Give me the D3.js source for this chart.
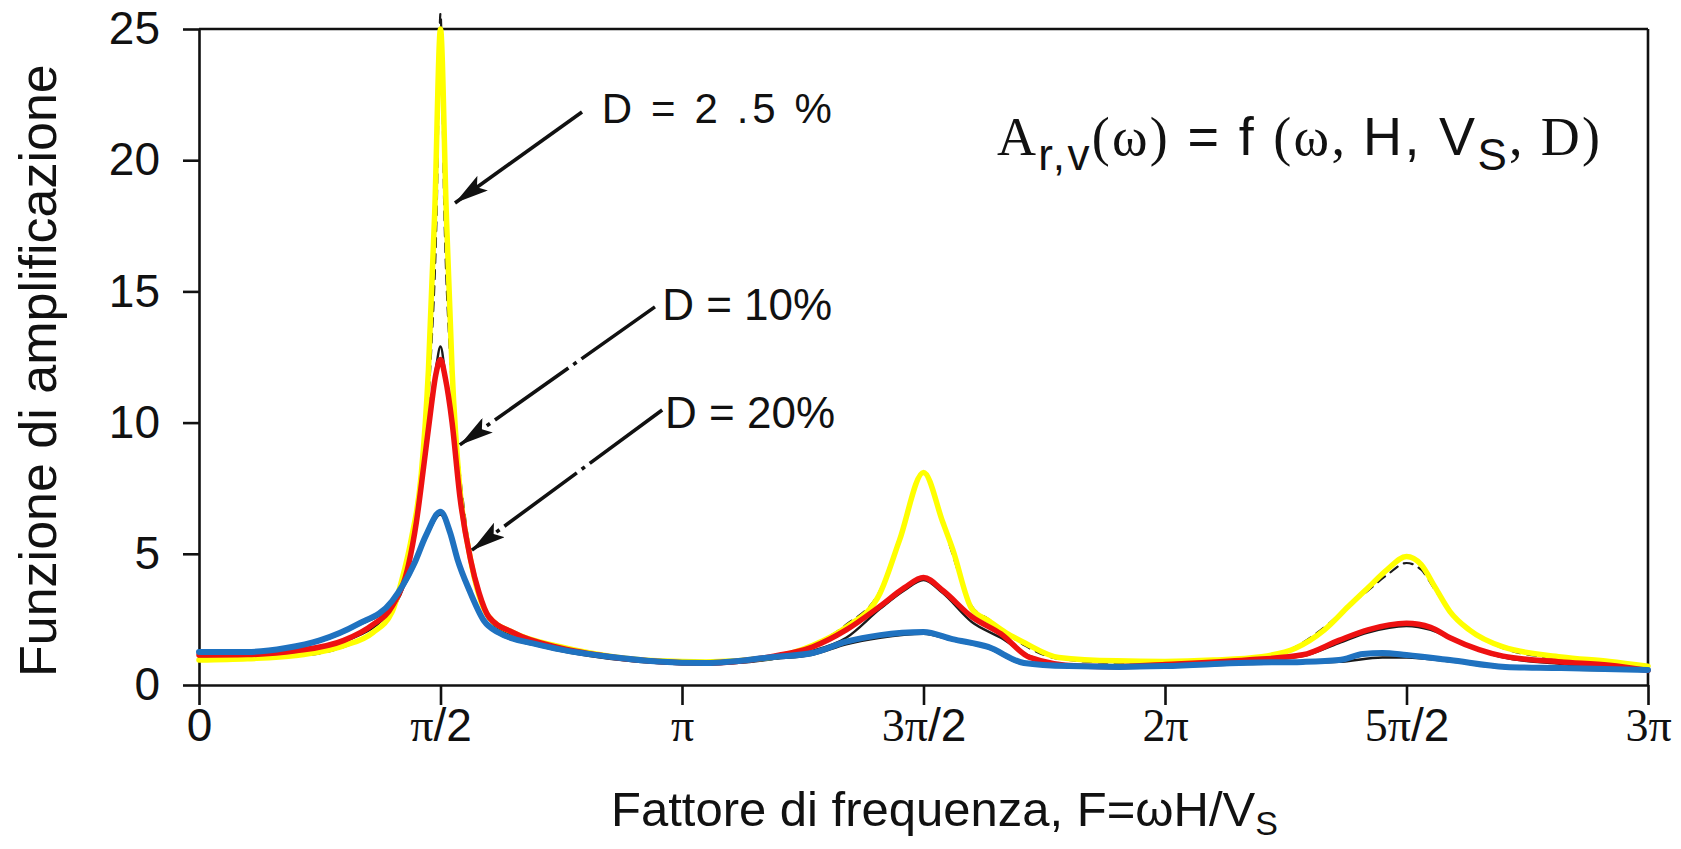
<!DOCTYPE html>
<html>
<head>
<meta charset="utf-8">
<script src="https://cdn.jsdelivr.net/npm/d3@7"></script>
<style>
  body { margin: 0; background: #fff; }
  svg { display: block; }
</style>
</head>
<body>
<svg id="chart"></svg>
<script>
// x values are F / pi (0 .. 3), y is the amplification
const xTickValues = [0, 0.5, 1, 1.5, 2, 2.5, 3];
const xTickLabels = ["0", "π/2", "π", "3π/2", "2π", "5π/2", "3π"];
const yTickValues = [0, 5, 10, 15, 20, 25];

// D = 2.5 % (yellow)
const yellowD25 = [[0,0.95],[0.1,1.0],[0.2,1.12],[0.3,1.5],[0.36,2.0],[0.4,2.8],[0.42,4.0],[0.44,5.6],[0.46,8],[0.475,12],
  [0.488,18],[0.5,25],[0.512,18],[0.524,12],[0.54,7.5],[0.56,5.0],[0.58,3.4],[0.6,2.6],[0.65,2.0],[0.75,1.45],[0.85,1.1],
  [0.95,0.92],[1.05,0.88],[1.19,1.07],[1.27,1.5],[1.34,2.2],[1.41,3.5],[1.45,5.5],[1.5,8.1],[1.54,6.2],[1.56,5.2],[1.6,2.9],
  [1.635,2.45],[1.67,2.0],[1.71,1.6],[1.78,1.05],[1.9,0.92],[2.0,0.9],[2.1,0.95],[2.2,1.08],[2.27,1.4],[2.33,2.1],[2.38,3.0],
  [2.42,3.7],[2.46,4.4],[2.5,4.9],[2.53,4.6],[2.56,3.7],[2.59,2.8],[2.63,2.1],[2.7,1.45],[2.82,1.07],[2.92,0.9],[3.0,0.72]];

// D = 2.5 % original black dashed curve
const blackD25 = [[0,1.0],[0.1,1.02],[0.2,1.1],[0.3,1.45],[0.36,2.0],[0.4,2.8],[0.42,3.9],[0.44,5.4],[0.46,8],[0.48,12.5],
  [0.492,18],[0.5,25.6],[0.508,18],[0.52,12.5],[0.535,9],[0.55,6.5],[0.57,4.2],[0.6,2.5],[0.65,1.9],[0.75,1.4],[0.85,1.05],
  [0.95,0.9],[1.05,0.85],[1.19,1.0],[1.27,1.5],[1.34,2.3],[1.41,3.6],[1.45,5.6],[1.5,8.1],[1.54,6.2],[1.56,5.0],[1.6,3.0],
  [1.635,2.5],[1.67,2.0],[1.71,1.5],[1.78,1.0],[1.9,0.85],[2.0,0.85],[2.1,0.9],[2.2,1.05],[2.27,1.45],[2.33,2.2],[2.38,3.0],
  [2.42,3.6],[2.46,4.2],[2.5,4.65],[2.53,4.4],[2.56,3.6],[2.6,2.6],[2.64,2.0],[2.7,1.4],[2.82,1.0],[2.92,0.85],[3.0,0.7]];

// D = 10 % (red)
const redD10 = [[0,1.14],[0.1,1.16],[0.2,1.3],[0.3,1.7],[0.36,2.3],[0.4,3.0],[0.434,4.6],[0.45,6.2],[0.465,8.3],[0.478,10.2],
  [0.49,11.8],[0.5,12.4],[0.51,11.7],[0.524,10],[0.54,7.2],[0.562,4.8],[0.58,3.5],[0.6,2.6],[0.65,2.0],[0.75,1.4],[0.85,1.08],
  [0.95,0.9],[1.05,0.84],[1.19,1.1],[1.27,1.45],[1.34,2.1],[1.41,3.0],[1.46,3.7],[1.5,4.1],[1.54,3.6],[1.6,2.6],[1.66,1.95],
  [1.72,1.05],[1.82,0.72],[1.9,0.7],[2.0,0.78],[2.17,0.95],[2.285,1.15],[2.36,1.7],[2.42,2.1],[2.5,2.35],[2.55,2.2],[2.59,1.8],
  [2.65,1.35],[2.7,1.1],[2.82,0.88],[2.92,0.75],[3.0,0.55]];

const blackD10 = [[0,1.05],[0.2,1.25],[0.3,1.65],[0.4,2.9],[0.434,4.5],[0.465,8.3],[0.49,12.0],[0.5,12.9],[0.51,11.8],
  [0.524,9.8],[0.54,7.0],[0.562,4.6],[0.6,2.5],[0.65,1.9],[0.75,1.35],[0.85,1.05],[0.95,0.85],[1.05,0.8],[1.19,1.0],[1.27,1.3],
  [1.34,1.8],[1.41,2.9],[1.46,3.6],[1.5,4.0],[1.54,3.5],[1.6,2.4],[1.66,1.8],[1.72,1.1],[1.82,0.7],[2.0,0.75],[2.17,0.9],
  [2.285,1.1],[2.36,1.6],[2.42,2.0],[2.5,2.25],[2.55,2.1],[2.6,1.7],[2.7,1.05],[2.82,0.8],[3.0,0.55]];

// D = 20 % (blue)
const blueD20 = [[0,1.26],[0.1,1.26],[0.18,1.41],[0.25,1.7],[0.327,2.3],[0.4,3.2],[0.445,4.6],[0.47,5.7],[0.5,6.6],[0.52,5.8],
  [0.535,4.8],[0.56,3.6],[0.59,2.45],[0.62,2.0],[0.7,1.55],[0.75,1.35],[0.85,1.08],[0.95,0.9],[1.05,0.84],[1.19,1.07],
  [1.27,1.22],[1.34,1.65],[1.41,1.9],[1.5,2.02],[1.56,1.75],[1.634,1.45],[1.708,0.84],[1.8,0.72],[1.906,0.69],[2.0,0.72],
  [2.17,0.85],[2.285,0.88],[2.36,0.95],[2.41,1.18],[2.45,1.22],[2.5,1.14],[2.59,0.95],[2.705,0.69],[2.82,0.65],[3.0,0.57]];

const blackD20 = [[0,1.1],[0.18,1.35],[0.25,1.65],[0.327,2.25],[0.4,3.1],[0.445,4.5],[0.47,5.6],[0.5,6.5],[0.52,5.7],
  [0.535,4.7],[0.56,3.5],[0.59,2.4],[0.62,1.95],[0.7,1.5],[0.85,1.0],[1.05,0.78],[1.19,1.0],[1.27,1.15],[1.34,1.55],
  [1.41,1.8],[1.5,1.95],[1.56,1.7],[1.634,1.4],[1.708,0.8],[1.9,0.65],[2.17,0.8],[2.36,0.88],[2.45,1.05],[2.5,1.05],
  [2.59,0.9],[2.705,0.65],[3.0,0.55]];

// annotations, in data units
const labelTexts = ["D = 2 .5 %", "D = 10%", "D = 20%"];
const labelAnchors = [[0.834, 21.42], [0.959, 13.91], [0.965, 9.79]];
const arrowStarts = [[0.793, 21.84], [0.944, 14.41], [0.959, 10.48]];
const arrowEnds = [[0.530, 18.37], [0.540, 9.15], [0.565, 5.14]];

class AmplificationChart {
  constructor(_config) {
    this.config = {
      parentElement: _config.parentElement,
      containerWidth: 1681,
      containerHeight: 849,
      margin: { top: 29, right: 33, bottom: 164, left: 199 }
    };
    this.sans = "'Liberation Sans', Arial, Helvetica, sans-serif";
    this.serif = "'Liberation Serif', 'Times New Roman', serif";
    this.initVis();
  }

  initVis() {
    let vis = this;
    const c = vis.config;
    c.width = c.containerWidth - c.margin.left - c.margin.right;
    c.height = c.containerHeight - c.margin.top - c.margin.bottom;

    vis.svg = d3.select(c.parentElement)
      .attr('width', c.containerWidth)
      .attr('height', c.containerHeight);

    vis.svg.append('rect')
      .attr('width', c.containerWidth).attr('height', c.containerHeight)
      .attr('fill', '#fff');

    vis.chart = vis.svg.append('g')
      .attr('transform', `translate(${c.margin.left},${c.margin.top})`);

    vis.x = d3.scaleLinear().domain([0, 3]).range([0, c.width]);
    vis.y = d3.scaleLinear().domain([0, 25]).range([c.height, 0]);

    vis.line = d3.line()
      .x(d => vis.x(d[0]))
      .y(d => vis.y(d[1]))
      .curve(d3.curveMonotoneX);

    vis.renderVis();
  }

  renderVis() {
    let vis = this;
    const c = vis.config;

    // axes
    const xAxis = d3.axisBottom(vis.x).tickValues(xTickValues).tickSize(20).tickSizeOuter(0).tickPadding(3);
    const yAxis = d3.axisLeft(vis.y).tickValues(yTickValues).tickSize(16).tickSizeOuter(0).tickPadding(23);

    const xG = vis.chart.append('g')
      .attr('transform', `translate(0,${c.height})`)
      .call(xAxis);
    const yG = vis.chart.append('g').call(yAxis);

    [xG, yG].forEach(g => {
      g.select('.domain').attr('stroke', '#111').attr('stroke-width', 2.6);
      g.selectAll('.tick line').attr('stroke', '#111').attr('stroke-width', 2.6);
      g.selectAll('.tick text').attr('fill', '#111').attr('font-size', 46).attr('font-family', vis.sans);
    });

    // pi in serif, the rest in sans
    xG.selectAll('.tick text').each(function(d, i) {
      const t = d3.select(this);
      const lab = xTickLabels[i];
      t.text(null);
      const k = lab.indexOf('π');
      if (k < 0) {
        t.append('tspan').attr('font-family', vis.sans).text(lab);
      } else {
        t.append('tspan').attr('font-family', vis.serif).text(lab.slice(0, k + 1));
        if (k + 1 < lab.length) t.append('tspan').attr('font-family', vis.sans).text(lab.slice(k + 1));
      }
    });

    // frame top and right
    vis.chart.append('line')
      .attr('x1', vis.x(0)).attr('x2', vis.x(3))
      .attr('y1', vis.y(25)).attr('y2', vis.y(25))
      .attr('stroke', '#111').attr('stroke-width', 2.6);
    vis.chart.append('line')
      .attr('x1', vis.x(3)).attr('x2', vis.x(3))
      .attr('y1', vis.y(25)).attr('y2', vis.y(0))
      .attr('stroke', '#111').attr('stroke-width', 2.6);

    // curves
    const series = [
      { data: blackD25, color: '#1a1a1a', width: 2.2, dash: '9,7' },
      { data: blackD10, color: '#1a1a1a', width: 2.4, dash: null },
      { data: blackD20, color: '#1a1a1a', width: 2.4, dash: null },
      { data: yellowD25, color: '#ffff00', width: 5.5, dash: null },
      { data: redD10, color: '#ee1111', width: 5.5, dash: null },
      { data: blueD20, color: '#1f72c0', width: 6, dash: null }
    ];

    vis.chart.selectAll('.curve')
        .data(series)
      .join('path')
        .attr('class', 'curve')
        .attr('d', d => vis.line(d.data))
        .attr('fill', 'none')
        .attr('stroke', d => d.color)
        .attr('stroke-width', d => d.width)
        .attr('stroke-dasharray', d => d.dash)
        .attr('stroke-linejoin', 'round')
        .attr('stroke-linecap', 'round');

    // arrows
    vis.svg.append('defs').append('marker')
      .attr('id', 'arrowhead')
      .attr('markerUnits', 'userSpaceOnUse')
      .attr('viewBox', '0 0 34 18')
      .attr('refX', 34).attr('refY', 9)
      .attr('markerWidth', 34).attr('markerHeight', 18)
      .attr('orient', 'auto')
      .append('path')
      .attr('d', 'M0,0 L34,9 L0,18 L7,9 Z')
      .attr('fill', '#111');

    vis.chart.selectAll('.arrow')
        .data(arrowStarts)
      .join('line')
        .attr('class', 'arrow')
        .attr('x1', d => vis.x(d[0])).attr('y1', d => vis.y(d[1]))
        .attr('x2', (d, i) => vis.x(arrowEnds[i][0])).attr('y2', (d, i) => vis.y(arrowEnds[i][1]))
        .attr('stroke', '#111').attr('stroke-width', 3.6)
        .attr('stroke-dasharray', (d, i) => i === 0 ? null : '90,6,4,6')
        .attr('marker-end', 'url(#arrowhead)');

    const labelSizes = [42, 44, 44];
    const labelLengths = [230, null, null];
    vis.chart.selectAll('.d-label')
        .data(labelTexts)
      .join('text')
        .attr('class', 'd-label')
        .attr('x', (d, i) => vis.x(labelAnchors[i][0]))
        .attr('y', (d, i) => vis.y(labelAnchors[i][1]))
        .attr('font-family', vis.sans)
        .attr('font-size', (d, i) => labelSizes[i])
        .attr('fill', '#111')
        .attr('textLength', (d, i) => labelLengths[i])
        .attr('lengthAdjust', 'spacing')
        .text(d => d);

    // formula
    const f = vis.svg.append('text')
      .attr('x', 997).attr('y', 155)
      .attr('font-size', 54).attr('fill', '#111')
      .attr('textLength', 603).attr('lengthAdjust', 'spacing');
    f.append('tspan').attr('font-family', vis.serif).text('A');
    f.append('tspan').attr('font-family', vis.sans).attr('font-size', 44).attr('dy', 15).text('r,v');
    f.append('tspan').attr('font-family', vis.serif).attr('dy', -15).text('(ω)');
    f.append('tspan').attr('font-family', vis.sans).text(' = f ');
    f.append('tspan').attr('font-family', vis.serif).text('(ω, ');
    f.append('tspan').attr('font-family', vis.sans).text('H, V');
    f.append('tspan').attr('font-family', vis.sans).attr('font-size', 44).attr('dy', 15).text('S');
    f.append('tspan').attr('font-family', vis.serif).attr('dy', -15).text(', D)');

    // axis titles
    const xt = vis.svg.append('text')
      .attr('x', 611).attr('y', 826)
      .attr('font-family', vis.sans).attr('font-size', 49).attr('fill', '#111');
    xt.append('tspan').text('Fattore di frequenza, F=ωH/V');
    xt.append('tspan').attr('font-size', 34).attr('dy', 9).text('S');

    vis.svg.append('text')
      .attr('transform', 'translate(56,677) rotate(-90)')
      .attr('font-family', vis.sans).attr('font-size', 52).attr('fill', '#111')
      .text('Funzione di amplificazione');
  }
}

const chart = new AmplificationChart({ parentElement: '#chart' });
</script>
</body>
</html>
